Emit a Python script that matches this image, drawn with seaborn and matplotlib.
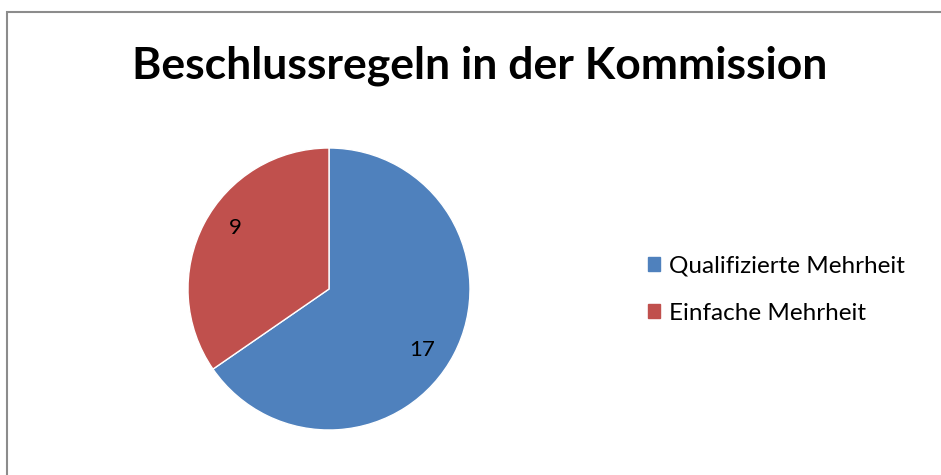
import numpy as np
import matplotlib.pyplot as plt
import matplotlib.patches as mpatches
import seaborn as sns

# data
categories = ["Qualifizierte Mehrheit", "Einfache Mehrheit"]
values = [17, 9]
colors = ["#4F81BD", "#C0504D"]
title = "Beschlussregeln in der Kommission"

sns.set_style("white")
plt.rcParams['font.family'] = ['Lato', 'DejaVu Sans']
plt.rcParams['text.color'] = 'black'

fig = plt.figure(figsize=(9.41, 4.75), dpi=100)

# gray frame around chart area (open to the right/bottom like the screenshot)
fig.patches.append(mpatches.Rectangle((7 / 941, -0.1), 1.2, 1 - 12 / 475 + 0.1,
                                      transform=fig.transFigure, fill=False,
                                      edgecolor="#8c8c8c", linewidth=1.5))

ax = fig.add_axes([188 / 941, 45 / 475, 282 / 941, 282 / 475])
total = sum(values)
wedges, texts, autotexts = ax.pie(values, colors=colors, startangle=90, counterclock=False,
                                  autopct=lambda p: f"{round(p * total / 100)}",
                                  pctdistance=0.78,
                                  textprops={"fontsize": 16, "color": "black"})
# nudge value labels a little clockwise, like the original
for w, t in zip(wedges, autotexts):
    ang = np.deg2rad((w.theta1 + w.theta2) / 2 - 5.5)
    t.set_position((0.79 * np.cos(ang), 0.79 * np.sin(ang)))
ax.set_xlim(-1, 1)
ax.set_ylim(-1, 1)
ax.set_aspect("equal")

fig.text(480 / 941, 1 - 66 / 475, title, ha="center", va="center",
         fontsize=32, fontweight="bold", color="black")

handles = [mpatches.Patch(color=c, label=l) for c, l in zip(colors, categories)]
fig.legend(handles=handles, loc="center left", bbox_to_anchor=(648 / 941, 1 - 289.5 / 475),
           frameon=False, fontsize=17.5, handlelength=0.5, handleheight=0.5,
           handletextpad=0.37, labelspacing=1.08, borderpad=0, borderaxespad=0)

fig.savefig("out.png", dpi=100)
